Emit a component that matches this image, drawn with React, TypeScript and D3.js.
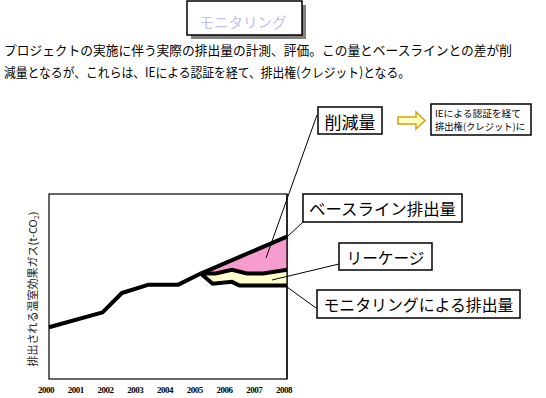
import React from "react";
import * as d3 from "d3";

const tickYears = [2000, 2001, 2002, 2003, 2004, 2005, 2006, 2007, 2008];
const tickLabels = ["2000", "2001", "2002", "2003", "2004", "2005", "2006", "2007", "2008"];

const actualYears = [2000, 2001.8, 2002.45, 2003.35, 2004.35, 2005.1];
const actualValues = [28, 36, 46.5, 51, 51, 57];

const baselineYears = [2005.1, 2008];
const baselineValues = [57, 77];

const leakageYears = [2005.1, 2005.6, 2006.15, 2006.65, 2007.2, 2008];
const leakageValues = [57, 57, 59, 57, 57, 59];

const monitorYears = [2005.1, 2005.5, 2006.15, 2006.4, 2007.2, 2008];
const monitorValues = [57, 51.5, 52.5, 50.5, 50.5, 50.5];

const titleText = "モニタリング";
const paraLine1 = "プロジェクトの実施に伴う実際の排出量の計測、評価。この量とベースラインとの差が削";
const paraLine2 = "減量となるが、これらは、IEによる認証を経て、排出権(クレジット)となる。";
const infoLine1 = "IEによる認証を経て";
const infoLine2 = "排出権(クレジット)に";
const labelReduction = "削減量";
const labelBaseline = "ベースライン排出量";
const labelLeakage = "リーケージ";
const labelMonitor = "モニタリングによる排出量";
const yAxisLabel = "排出される温室効果ガス(t-CO";

const JP = "'Noto Sans CJK JP', 'Noto Sans', sans-serif";

export default function App() {
  const x = d3.scaleLinear().domain([2000, 2008]).range([49, 287]);
  const y = d3.scaleLinear().domain([0, 100]).range([379, 194]);

  const pts = (xs: number[], vs: number[]) => xs.map((v, i) => [x(v), y(vs[i])] as [number, number]);
  const line = d3.line<[number, number]>();

  const actual = pts(actualYears, actualValues);
  const base = pts(baselineYears, baselineValues);
  const leak = pts(leakageYears, leakageValues);
  const mon = pts(monitorYears, monitorValues);

  const pinkPoly = line([...base, ...leak.slice().reverse()]) + "Z";
  const creamPoly = line([...leak, ...mon.slice().reverse()]) + "Z";

  return (
    <svg width={546} height={398} style={{ position: "absolute", left: 0, top: 0, background: "#fff" }}>
      <rect x={0} y={0} width={546} height={398} fill="#fff" />
      {/* title */}
      <rect x={191} y={5} width={115} height={34} fill="#808080" />
      <rect x={187} y={1} width={115} height={34} fill="#fff" stroke="#000" strokeWidth={1.5} />
      <text x={243} y={21.5} textAnchor="middle" dominantBaseline="central" fontFamily={JP} fontSize={14.5} fill="#c0c0f0">
        {titleText}
      </text>

      {/* paragraph */}
      <text x={4} y={55} fontFamily={JP} fontSize={13} fill="#000" textLength={508} lengthAdjust="spacingAndGlyphs">
        {paraLine1}
      </text>
      <text x={4} y={77} fontFamily={JP} fontSize={13} fill="#000" textLength={406} lengthAdjust="spacingAndGlyphs">
        {paraLine2}
      </text>

      {/* plot frame */}
      <rect x={49} y={194} width={238} height={185} fill="#fff" stroke="#000" strokeWidth={1.2} />

      {/* areas */}
      <path d={pinkPoly} fill="#f79ccf" stroke="none" />
      <path d={creamPoly} fill="#ffffcc" stroke="none" />

      {/* lines */}
      <path d={line(leak) || ""} fill="none" stroke="#000" strokeWidth={4} strokeLinejoin="miter" />
      <path d={line(mon) || ""} fill="none" stroke="#000" strokeWidth={4} strokeLinejoin="miter" />
      <path d={line(base) || ""} fill="none" stroke="#000" strokeWidth={4} />
      <path d={line(actual) || ""} fill="none" stroke="#000" strokeWidth={4} strokeLinejoin="round" />

      {/* right edge redraw */}
      <line x1={287} y1={194} x2={287} y2={379} stroke="#000" strokeWidth={1.2} />

      {/* x tick labels */}
      {tickYears.map((t, i) => (
        <text key={t} x={x(t) - 3} y={393} textAnchor="middle" fontFamily="'Liberation Serif', serif" fontSize={9} fontWeight="bold" fill="#000" letterSpacing={-0.5}>
          {tickLabels[i]}
        </text>
      ))}

      {/* y axis label */}
      <text
        transform="translate(37,289) rotate(-90)"
        textAnchor="middle"
        fontFamily={JP}
        fontSize={11}
        fill="#222"
      >
        {yAxisLabel}
        <tspan fontSize={7} dy={2}>2</tspan>
        <tspan dy={-2}>)</tspan>
      </text>

      {/* callout lines */}
      <line x1={317} y1={115} x2={266} y2={258} stroke="#000" strokeWidth={1} />
      <line x1={303} y1={222} x2={287} y2={237} stroke="#000" strokeWidth={1} />
      <line x1={339} y1={264} x2={272} y2={280} stroke="#000" strokeWidth={1} />
      <line x1={316} y1={308} x2={287} y2={287} stroke="#000" strokeWidth={1} />

      {/* callout boxes */}
      <rect x={318} y={107} width={64} height={27} fill="#fff" stroke="#000" strokeWidth={1.5} />
      <text x={350} y={121} textAnchor="middle" dominantBaseline="central" fontFamily={JP} fontSize={17} fill="#000">
        {labelReduction}
      </text>

      <rect x={303} y={194} width={159} height={28} fill="#fff" stroke="#000" strokeWidth={1.5} />
      <text x={382.5} y={208} textAnchor="middle" dominantBaseline="central" fontFamily={JP} fontSize={16} fill="#000" textLength={147} lengthAdjust="spacingAndGlyphs">
        {labelBaseline}
      </text>

      <rect x={339} y={243} width={93} height={27} fill="#fff" stroke="#000" strokeWidth={1.5} />
      <text x={385.5} y={257} textAnchor="middle" dominantBaseline="central" fontFamily={JP} fontSize={16} fill="#000" textLength={78} lengthAdjust="spacingAndGlyphs">
        {labelLeakage}
      </text>

      <rect x={317} y={290} width={203} height={28} fill="#fff" stroke="#000" strokeWidth={1.5} />
      <text x={418.5} y={304} textAnchor="middle" dominantBaseline="central" fontFamily={JP} fontSize={16} fill="#000" textLength={190} lengthAdjust="spacingAndGlyphs">
        {labelMonitor}
      </text>

      {/* arrow */}
      <polygon
        points="398,117 416,117 416,112 425,120.5 416,129 416,124 398,124"
        fill="#ffffc0"
        stroke="#d4a017"
        strokeWidth={1.5}
      />

      {/* info box */}
      <rect x={431} y={104} width={100} height={31} fill="#fff" stroke="#000" strokeWidth={1.5} />
      <text x={435} y={117} fontFamily={JP} fontSize={9.5} fill="#000" textLength={86} lengthAdjust="spacingAndGlyphs">
        {infoLine1}
      </text>
      <text x={435} y={130} fontFamily={JP} fontSize={9.5} fill="#000" textLength={90} lengthAdjust="spacingAndGlyphs">
        {infoLine2}
      </text>
    </svg>
  );
}
